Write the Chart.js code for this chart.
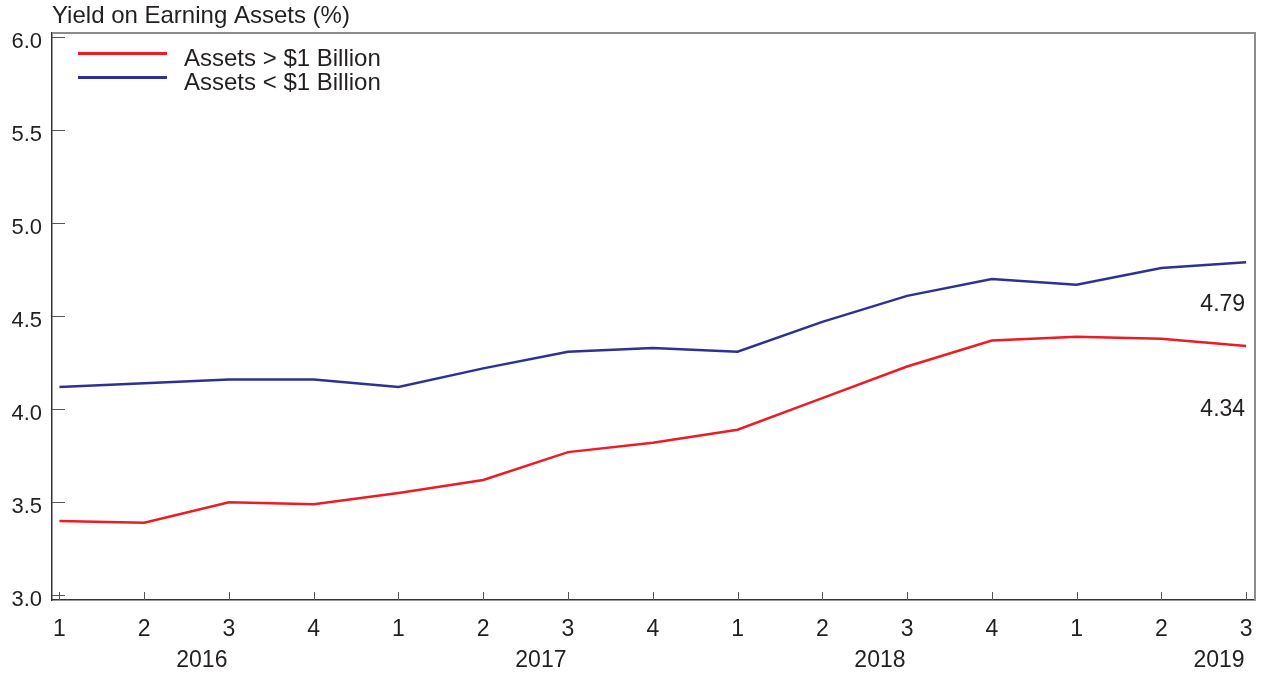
<!DOCTYPE html>
<html><head><meta charset="utf-8">
<script src="https://cdn.jsdelivr.net/npm/chart.js@4"></script>
<style>html,body{margin:0;padding:0;background:#fff}canvas{display:block}</style>
</head><body>
<canvas id="c" width="1262" height="675"></canvas>
<script>
const quarters = ['1','2','3','4','1','2','3','4','1','2','3','4','1','2','3'];
const years = ['2016','2017','2018','2019'];
const yearStartIndex = [0, 4, 8, 12];
const largeBanks = [3.40,3.39,3.50,3.49,3.55,3.62,3.77,3.82,3.89,4.06,4.23,4.37,4.39,4.38,4.34];
const smallBanks = [4.12,4.14,4.16,4.16,4.12,4.22,4.31,4.33,4.31,4.47,4.61,4.70,4.67,4.76,4.79];
const yTicks = [3.0,3.5,4.0,4.5,5.0,5.5,6.0];
const seriesNames = ['Assets > $1 Billion','Assets < $1 Billion'];
const titleText = 'Yield on Earning Assets (%)';

const FONT = '"Liberation Sans", Arial, Helvetica, sans-serif';
const TEXT = '#231f20';
const RED = '#ed1c24';
const BLUE = '#2e3192';

const extras = {
  id: 'extras',
  afterDraw(chart) {
    const ctx = chart.ctx;
    const a = chart.chartArea;
    const xs = chart.scales.x, ys = chart.scales.y;
    ctx.save();
    ctx.strokeStyle = '#8c8c8c';
    ctx.lineWidth = 2;
    ctx.beginPath();
    ctx.moveTo(a.left, a.top); ctx.lineTo(a.right, a.top); ctx.lineTo(a.right, a.bottom);
    ctx.stroke();
    ctx.strokeStyle = '#555';
    ctx.lineWidth = 1;
    ctx.beginPath();
    yTicks.forEach(v => {
      const p = Math.round(ys.getPixelForValue(v)) + 0.5;
      ctx.moveTo(a.left, p); ctx.lineTo(a.left + 13, p);
    });
    quarters.forEach((q, i) => {
      const p = Math.round(xs.getPixelForValue(i)) + 0.5;
      ctx.moveTo(p, a.bottom); ctx.lineTo(p, a.bottom - 8);
    });
    ctx.stroke();
    ctx.fillStyle = TEXT;
    ctx.font = '24px ' + FONT;
    ctx.textAlign = 'left';
    ctx.textBaseline = 'alphabetic';
    ctx.fillText(titleText, 52, 23);
    chart.data.datasets.forEach((ds, i) => {
      const ly = 53.5 + i * 24;
      ctx.strokeStyle = ds.borderColor;
      ctx.lineWidth = 3;
      ctx.beginPath(); ctx.moveTo(78, ly); ctx.lineTo(167, ly); ctx.stroke();
      ctx.fillStyle = TEXT;
      ctx.fillText(ds.label, 184, 66 + i * 24.3);
    });
    const offsets = [70, 48.5];
    ctx.font = '23px ' + FONT;
    ctx.textAlign = 'right';
    chart.data.datasets.forEach((ds, i) => {
      const meta = chart.getDatasetMeta(i);
      const pt = meta.data[meta.data.length - 1];
      const v = ds.data[ds.data.length - 1].y;
      ctx.fillText(v.toFixed(2), pt.x - 1, pt.y + offsets[i]);
    });
    ctx.restore();
  }
};

new Chart(document.getElementById('c'), {
  type: 'line',
  data: {
    datasets: [
      { label: seriesNames[0], data: largeBanks.map((v, i) => ({x: i, y: v})), borderColor: RED, backgroundColor: RED, borderWidth: 2.5, pointRadius: 0, tension: 0 },
      { label: seriesNames[1], data: smallBanks.map((v, i) => ({x: i, y: v})), borderColor: BLUE, backgroundColor: BLUE, borderWidth: 2.5, pointRadius: 0, tension: 0 }
    ]
  },
  options: {
    responsive: false,
    animation: false,
    layout: { padding: { left: 0, right: 7, top: 33, bottom: 0 } },
    plugins: { legend: { display: false }, title: { display: false }, tooltip: { enabled: false } },
    scales: {
      x: {
        type: 'linear', position: 'bottom', weight: 0,
        min: -0.088, max: 14.105,
        afterBuildTicks: s => { s.ticks = quarters.map((q, i) => ({value: i})); },
        afterFit: s => { s.height = 40; s.paddingLeft = 0; s.paddingRight = 0; },
        grid: { display: true, drawOnChartArea: false, drawTicks: false, color: 'rgba(0,0,0,0)' },
        border: { display: true, color: '#333', width: 1.5 },
        ticks: { autoSkip: false, maxRotation: 0, padding: 16, color: TEXT, font: { family: FONT, size: 23 }, callback: (v, i) => quarters[i] }
      },
      years: {
        type: 'linear', position: 'bottom', weight: 1,
        min: -0.088, max: 14.105,
        afterBuildTicks: s => { s.ticks = years.map((y, i) => ({value: yearStartIndex[i] + 1.68})); },
        afterFit: s => { s.height = 35; s.paddingLeft = 0; s.paddingRight = 0; },
        grid: { display: false, drawTicks: false },
        border: { display: false },
        ticks: { autoSkip: false, maxRotation: 0, padding: 7, color: TEXT, font: { family: FONT, size: 23 }, callback: (v, i) => years[i] }
      },
      y: {
        type: 'linear', position: 'left',
        min: 2.975, max: 6.023,
        afterBuildTicks: s => { s.ticks = yTicks.map(v => ({value: v})); },
        afterFit: s => { s.width = 52; },
        grid: { display: true, drawOnChartArea: false, drawTicks: false, color: 'rgba(0,0,0,0)' },
        border: { display: true, color: '#333', width: 1.5 },
        ticks: { padding: 10, labelOffset: 5, color: TEXT, font: { family: FONT, size: 22 }, callback: v => v.toFixed(1) }
      }
    }
  },
  plugins: [extras]
});
</script>
</body></html>
